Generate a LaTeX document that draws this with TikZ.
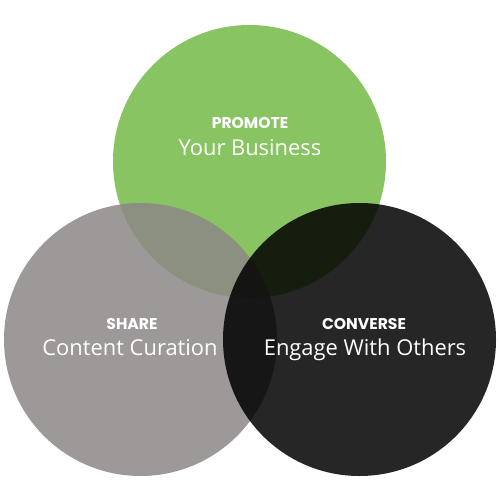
\documentclass[tikz,border=0pt]{standalone}
\usepackage{fontspec}
\setmainfont{Open Sans}
\newfontfamily\capsfont{Poppins}
\definecolor{venngreen}{RGB}{136,196,98}
\definecolor{venngray}{RGB}{141,136,135}
\definecolor{venndark}{RGB}{0,0,0}
\tikzset{
  venn/.style={circle, minimum size=273pt, inner sep=0pt, fill opacity=0.85, draw=none},
  captext/.style={text=white, font=\capsfont\fontsize{15.6}{17}\selectfont\bfseries},
  subtext/.style={text=white, font=\fontsize{21.9}{26}\selectfont},
}
\begin{document}
\begin{tikzpicture}[x=1pt,y=-1pt]
\fill[white] (0,0) rectangle (500,500);
\useasboundingbox (0,0) rectangle (500,500);
\node[venn, fill=venngreen, fill opacity=1] (promote) at (249.5,161.5) {};
\node[venn, fill=venngray] (share) at (140.5,339.5) {};
\node[venn, fill=venndark] (converse) at (359.5,339.5) {};
\node[captext, anchor=base] (promotecap) at (250,128.6) {PROMOTE};
\node[subtext, anchor=base] (promotesub) at (250,155) {Your Business};
\node[captext, anchor=base] (sharecap) at (132,329.6) {SHARE};
\node[subtext, anchor=base] (sharesub) at (130,355.7) {Content Curation};
\node[captext, anchor=base] (conversecap) at (364,329.6) {CONVERSE};
\node[subtext, anchor=base] (conversesub) at (365,355.7) {Engage With Others};
\end{tikzpicture}
\end{document}
